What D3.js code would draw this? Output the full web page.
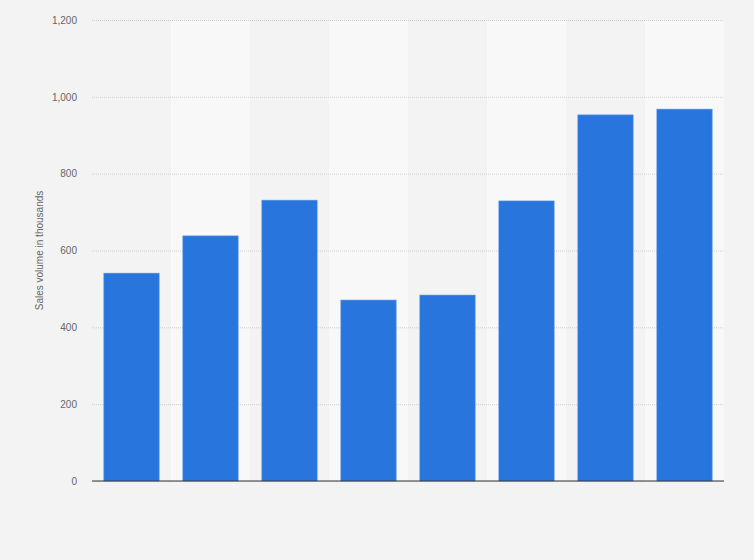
<!DOCTYPE html>
<html lang="en">
<head>
<meta charset="UTF-8">
<title>Sales volume</title>
<script src="https://cdn.jsdelivr.net/npm/d3@7"></script>
<style>
    body{
        margin: 0;
        background: #f3f3f3;
    }
    .tick text{
        font-family: "Liberation Sans", Arial, sans-serif;
        font-size: 10px;
        fill: #666;
    }
</style>
</head>
<body>
<svg id="chart" width="754" height="560"></svg>
<script>
    // values (thousands)
    let categories = ["1", "2", "3", "4", "5", "6", "7", "8"]
    let sales = [541, 638, 731, 471, 484, 729, 953, 968]
    let yTicks = [0, 200, 400, 600, 800, 1000, 1200]

    let svg = d3.select("#chart")
    let margin = {left: 92, right: 30, top: 20, bottom: 79}
    let w = 754 - margin.left - margin.right
    let h = 560 - margin.top - margin.bottom

    let g = svg.append("g")
        .attr("transform", "translate(" + margin.left + "," + margin.top + ")")

    let x = d3.scaleBand()
        .domain(categories)
        .range([0, w])
        .paddingInner(0.3)
        .paddingOuter(0.15)
    let step = x.step()

    let y = d3.scaleLinear()
        .domain([0, 1200])
        .range([h, 0])

    // alternating column stripes
    g.selectAll(".stripe")
        .data(categories.filter((d, i) => i % 2 === 1))
        .enter()
        .append("rect")
        .attr("x", d => x(d) - (step - x.bandwidth()) / 2)
        .attr("y", 0)
        .attr("width", step)
        .attr("height", h)
        .attr("fill", "#f8f8f8")

    // grid + tick labels
    let yAxis = d3.axisLeft(y)
        .tickValues(yTicks)
        .tickSize(-w)
        .tickPadding(15)
        .tickFormat(d3.format(","))
    g.append("g")
        .call(yAxis)
        .call(a => a.select(".domain").remove())
        .call(a => a.selectAll(".tick line")
            .attr("stroke", "#d0d0d0")
            .attr("stroke-dasharray", "1,1"))

    g.selectAll(".bar")
        .data(sales)
        .enter()
        .append("rect")
        .attr("x", (d, i) => x(categories[i]))
        .attr("y", d => y(d))
        .attr("width", x.bandwidth())
        .attr("height", d => h - y(d))
        .attr("fill", "#2876dd")
        .attr("stroke", "#5a95e6")
        .attr("stroke-width", 0.6)

    // baseline
    g.append("line")
        .attr("x1", 0)
        .attr("x2", w)
        .attr("y1", y(0))
        .attr("y2", y(0))
        .attr("stroke", "#333")
        .attr("stroke-width", 1)

    svg.append("text")
        .attr("transform", "translate(43," + (margin.top + h / 2) + ") rotate(-90)")
        .attr("text-anchor", "middle")
        .attr("font-family", "'Liberation Sans', Arial, sans-serif")
        .attr("font-size", 10)
        .attr("fill", "#666")
        .text("Sales volume in thousands")
</script>
</body>
</html>
